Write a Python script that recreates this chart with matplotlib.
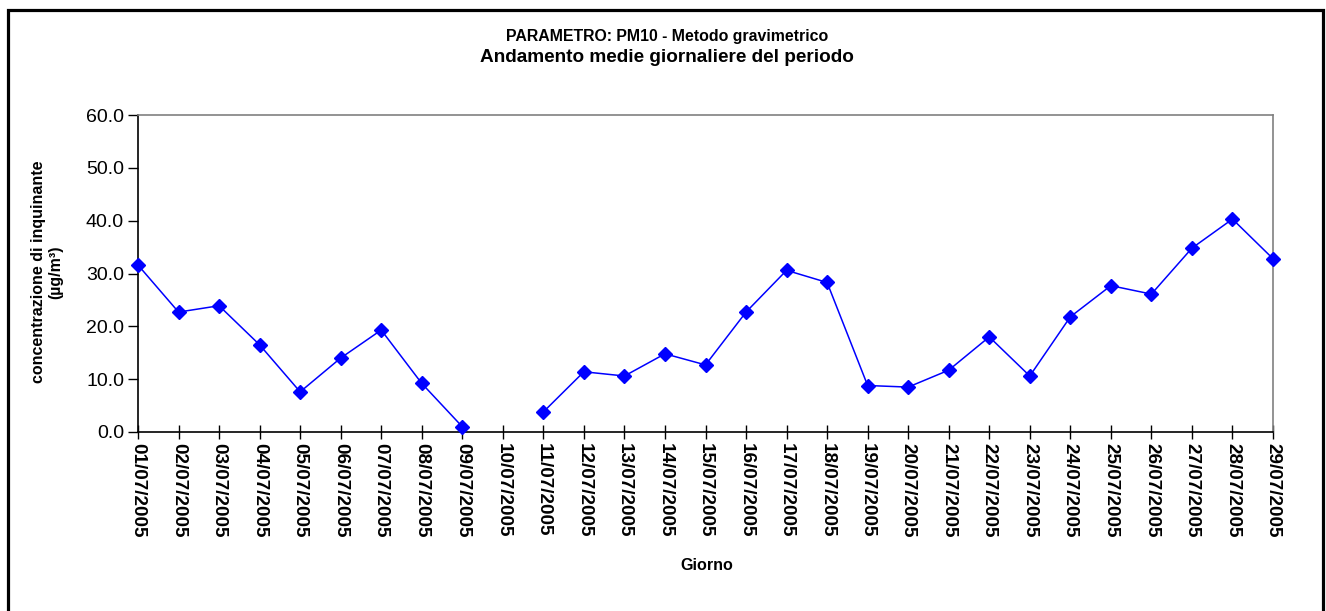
import numpy as np
import matplotlib
matplotlib.use("Agg")
import matplotlib.pyplot as plt
from matplotlib.patches import Rectangle

plt.rcParams['font.family'] = ['Liberation Sans', 'DejaVu Sans']

# daily PM10 means, July 2005 (10/07 missing)
giorni = ["%02d/07/2005" % d for d in range(1, 30)]
pm10 = [31.6, 22.7, 23.9, 16.5, 7.6, 14.0, 19.3, 9.2, 1.0, np.nan,
        3.8, 11.4, 10.6, 14.8, 12.7, 22.7, 30.6, 28.3, 8.8, 8.5,
        11.7, 18.0, 10.6, 21.8, 27.7, 26.1, 34.8, 40.3, 32.8]
yticks = [0, 10, 20, 30, 40, 50, 60]

fig = plt.figure(figsize=(13.26, 6.11), dpi=100)
ax = fig.add_axes([138 / 1326, 1 - 432 / 611, (1273 - 138) / 1326, (432 - 115) / 611])

x = np.arange(len(giorni))
ax.plot(x, pm10, color='#0000FF', lw=1.1, marker='D', ms=6.8,
        markeredgecolor='#0000FF', clip_on=False, zorder=3)

ax.set_xlim(0, len(giorni) - 1)
ax.set_ylim(0, 60)
ax.set_yticks(yticks)
ax.set_yticklabels(["%.1f" % v for v in yticks], fontsize=14)
ax.set_xticks(x)
ax.set_xticklabels(giorni, rotation=270, fontsize=13.6, fontweight='bold')
ax.tick_params(axis='x', direction='inout', length=10, width=1, pad=3)
ax.tick_params(axis='y', direction='out', length=7, width=1, pad=3)

for s in ['left', 'bottom']:
    ax.spines[s].set_color('black')
    ax.spines[s].set_linewidth(1.2)
for s in ['top', 'right']:
    ax.spines[s].set_color('#808080')
    ax.spines[s].set_linewidth(1.2)

fig.text(667 / 1326, 1 - 37 / 611, "PARAMETRO: PM10 - Metodo gravimetrico",
         ha='center', va='center', fontsize=11.4, fontweight='bold')
fig.text(667 / 1326, 1 - 58 / 611, "Andamento medie giornaliere del periodo",
         ha='center', va='center', fontsize=13.7, fontweight='bold')
fig.text(707 / 1326, 1 - 566 / 611, "Giorno",
         ha='center', va='center', fontsize=11.6, fontweight='bold')
fig.text(47 / 1326, 1 - 272 / 611, "concentrazione di inquinante\n(µg/m³)",
         ha='center', va='center', rotation=90, fontsize=11.5, fontweight='bold',
         linespacing=1.2)

# outer chart-area border
fig.add_artist(Rectangle((8 / 1326, -0.05), (1323 - 8) / 1326, 1.05 - 10 / 611,
                         transform=fig.transFigure, fill=False,
                         edgecolor='black', linewidth=2.3))

fig.savefig("out.png", dpi=100)
